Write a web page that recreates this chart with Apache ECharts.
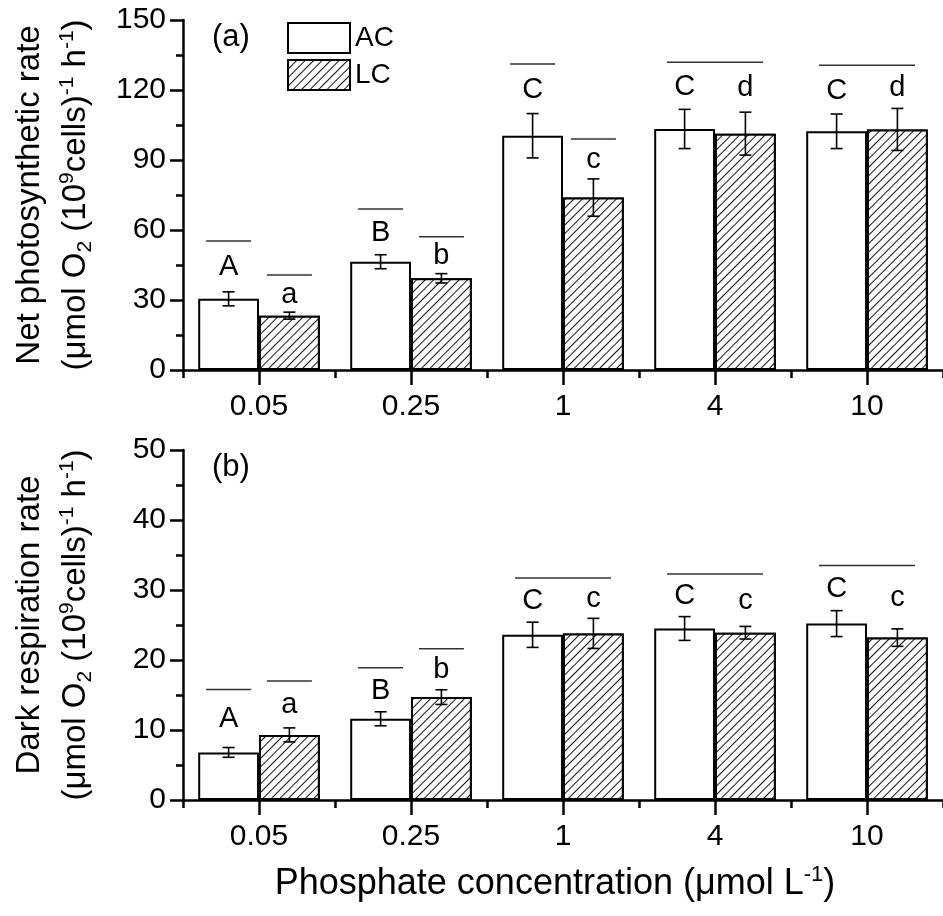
<!DOCTYPE html>
<html>
<head>
<meta charset="utf-8">
<script src="https://cdn.jsdelivr.net/npm/echarts@6/dist/echarts.min.js"></script>
<style>
  html, body { margin: 0; padding: 0; background: #fff; }
  #chart { width: 943px; height: 916px; }
</style>
</head>
<body>
<div id="chart"></div>
<script>
// phosphate levels (µmol L-1)
const categories = ['0.05', '0.25', '1', '4', '10'];

// (a) net photosynthetic rate
const netAC = [30.5, 46.4, 100.4, 103.3, 102.3];
const netACErr = [3.0, 3.0, 9.5, 8.4, 7.4];
const netLC = [23.3, 39.3, 73.9, 101.3, 103.1];
const netLCErr = [1.5, 2.0, 8.0, 9.2, 9.0];
const netACLetters = ['A', 'B', 'C', 'C', 'C'];
const netLCLetters = ['a', 'b', 'c', 'd', 'd'];
// height of the grouping line over each bar; null in LC = one line over both bars
const netACLine = [55.3, 69, 131.1, 131.9, 130.6];
const netLCLine = [40.7, 57.1, 99, null, null];

// (b) dark respiration rate
const darkAC = [6.8, 11.6, 23.6, 24.5, 25.2];
const darkACErr = [0.7, 1.0, 1.8, 1.7, 1.85];
const darkLC = [9.3, 14.7, 23.8, 23.9, 23.2];
const darkLCErr = [1.0, 1.05, 2.15, 0.9, 1.25];
const darkACLetters = ['A', 'B', 'C', 'C', 'C'];
const darkLCLetters = ['a', 'b', 'c', 'c', 'c'];
const darkACLine = [15.8, 18.9, 31.7, 32.3, 33.5];
const darkLCLine = [17.0, 21.6, null, null, null];

const FONT = "'Liberation Sans', Arial, sans-serif";
const hatch = {
  symbol: 'rect',
  symbolSize: 1,
  color: '#111',
  backgroundColor: '#fff',
  dashArrayX: [1, 0],
  dashArrayY: [1, 5],
  rotation: -Math.PI / 4
};

function barWidth(api) {
  return api.size([1, 0])[0] * 0.8 / 2;
}

function errorSeries(name, gridIdx, sign, vals, errs) {
  return {
    name: name + ' err',
    type: 'custom',
    xAxisIndex: gridIdx * 2,
    yAxisIndex: gridIdx,
    z: 5,
    silent: true,
    data: vals.map((v, i) => [i, v, errs[i]]),
    renderItem: function (params, api) {
      const i = api.value(0);
      const bw = barWidth(api);
      const x = api.coord([i, 0])[0] + sign * bw / 2;
      const hi = api.coord([i, api.value(1) + api.value(2)])[1];
      const lo = api.coord([i, api.value(1) - api.value(2)])[1];
      const st = { stroke: '#000', lineWidth: 1.6 };
      return {
        type: 'group',
        children: [
          { type: 'line', shape: { x1: x, y1: hi, x2: x, y2: lo }, style: st },
          { type: 'line', shape: { x1: x - 6, y1: hi, x2: x + 6, y2: hi }, style: st },
          { type: 'line', shape: { x1: x - 6, y1: lo, x2: x + 6, y2: lo }, style: st }
        ]
      };
    }
  };
}

function markSeries(gridIdx, ac, acErr, lc, lcErr, acLine, lcLine, acLet, lcLet) {
  return {
    name: 'marks',
    type: 'custom',
    xAxisIndex: gridIdx * 2,
    yAxisIndex: gridIdx,
    z: 6,
    silent: true,
    data: categories.map((c, i) => [i, acLine[i]]),
    renderItem: function (params, api) {
      const i = params.dataIndex;
      const bw = barWidth(api);
      const cx = api.coord([i, 0])[0];
      const xa = cx - bw / 2, xl = cx + bw / 2;
      const lineSt = { stroke: '#333', lineWidth: 1.5 };
      const txt = (x, y, t) => ({
        type: 'text',
        style: { x: x, y: y, text: t, fill: '#000', fontSize: 29, fontFamily: FONT, align: 'center', verticalAlign: 'middle' }
      });
      const children = [];
      const yA = api.coord([i, acLine[i]])[1];
      let yL;
      if (lcLine[i] == null) {
        yL = yA;
        const h = bw * 0.79;
        children.push({ type: 'line', shape: { x1: cx - h, y1: yA, x2: cx + h, y2: yA }, style: lineSt });
      } else {
        yL = api.coord([i, lcLine[i]])[1];
        const h = bw * 0.37;
        children.push({ type: 'line', shape: { x1: xa - h, y1: yA, x2: xa + h, y2: yA }, style: lineSt });
        children.push({ type: 'line', shape: { x1: xl - h, y1: yL, x2: xl + h, y2: yL }, style: lineSt });
      }
      const eA = api.coord([i, ac[i] + acErr[i]])[1];
      const eL = api.coord([i, lc[i] + lcErr[i]])[1];
      children.push(txt(xa, (eA + yA) / 2 + 1, acLet[i]));
      children.push(txt(xl, (eL + yL) / 2 + 1, lcLet[i]));
      return { type: 'group', children: children };
    }
  };
}

const axisLineSt = { show: true, lineStyle: { color: '#000', width: 2.5 } };
const labelSt = { color: '#000', fontSize: 30, fontFamily: FONT };

function xAxes(gridIdx, withName) {
  return [
    {
      gridIndex: gridIdx,
      type: 'category',
      position: 'bottom',
      data: categories,
      axisLine: axisLineSt,
      axisTick: { show: true, alignWithLabel: true, length: 15, lineStyle: { color: '#000', width: 2.5 } },
      axisLabel: Object.assign({ margin: 22 }, labelSt),
      name: withName ? '{t|Phosphate concentration (\u03bcmol L}{sup|-1}{t|)}' : '',
      nameLocation: 'middle',
      nameGap: 64,
      nameTextStyle: {
        padding: [0, 16, 0, 0],
        rich: {
          t: { fontSize: 36, fontFamily: FONT, color: '#000' },
          sup: { fontSize: 22, fontFamily: FONT, color: '#000', padding: [0, 0, 18, 0] }
        }
      }
    },
    {
      gridIndex: gridIdx,
      type: 'category',
      position: 'bottom',
      data: categories,
      axisLine: { show: false },
      axisTick: { show: true, length: 8, lineStyle: { color: '#000', width: 2.5 } },
      axisLabel: { show: false }
    }
  ];
}

function yAxis(gridIdx, max, interval, title) {
  return {
    gridIndex: gridIdx,
    type: 'value',
    min: 0,
    max: max,
    interval: interval,
    axisLine: axisLineSt,
    axisTick: { show: true, length: 13, lineStyle: { color: '#000', width: 2.5 } },
    minorTick: { show: true, splitNumber: 2, length: 7, lineStyle: { color: '#000', width: 2.5 } },
    splitLine: { show: false },
    axisLabel: Object.assign({ margin: 17 }, labelSt),
    name: '{t|' + title + '}\n{t|(\u03bcmol O}{sub|2}{t| (10}{sup|9}{t|cells)}{sup|-1}{t| h}{sup|-1}{t|)}',
    nameLocation: 'middle',
    nameRotate: 90,
    nameGap: 84,
    nameTextStyle: {
      rich: {
        t: { fontSize: 33, fontFamily: FONT, color: '#000', lineHeight: 46 },
        sup: { fontSize: 21, fontFamily: FONT, color: '#000', padding: [0, 0, 18, 0] },
        sub: { fontSize: 21, fontFamily: FONT, color: '#000', padding: [18, 0, 0, 0] }
      }
    }
  };
}

function barSeries(name, gridIdx, vals, hatched) {
  return {
    name: name,
    type: 'bar',
    xAxisIndex: gridIdx * 2,
    yAxisIndex: gridIdx,
    data: vals,
    barGap: '0%',
    barCategoryGap: '20%',
    itemStyle: Object.assign(
      { color: '#fff', borderColor: '#000', borderWidth: 2 },
      hatched ? { decal: hatch } : {}
    )
  };
}

const chart = echarts.init(document.getElementById('chart'), null, { renderer: 'canvas' });
chart.setOption({
  animation: false,
  backgroundColor: '#fff',
  grid: [
    { left: 183, top: 20, width: 760, height: 350 },
    { left: 183, top: 450, width: 760, height: 350 }
  ],
  legend: {
    data: ['AC', 'LC'],
    orient: 'vertical',
    left: 287,
    top: 22,
    padding: 0,
    itemWidth: 62,
    itemHeight: 30,
    itemGap: 5,
    icon: 'rect',
    selectedMode: false,
    textStyle: { color: '#000', fontSize: 28, fontFamily: FONT }
  },
  graphic: [
    { type: 'text', x: 212, y: 37, style: { text: '(a)', fontSize: 31, fontFamily: FONT, fill: '#000', verticalAlign: 'middle' } },
    { type: 'text', x: 212, y: 467, style: { text: '(b)', fontSize: 31, fontFamily: FONT, fill: '#000', verticalAlign: 'middle' } }
  ],
  xAxis: xAxes(0, false).concat(xAxes(1, true)),
  yAxis: [
    yAxis(0, 150, 30, 'Net photosynthetic rate'),
    yAxis(1, 50, 10, 'Dark respiration rate')
  ],
  series: [
    barSeries('AC', 0, netAC, false),
    barSeries('LC', 0, netLC, true),
    errorSeries('AC', 0, -1, netAC, netACErr),
    errorSeries('LC', 0, 1, netLC, netLCErr),
    markSeries(0, netAC, netACErr, netLC, netLCErr, netACLine, netLCLine, netACLetters, netLCLetters),
    barSeries('AC', 1, darkAC, false),
    barSeries('LC', 1, darkLC, true),
    errorSeries('AC', 1, -1, darkAC, darkACErr),
    errorSeries('LC', 1, 1, darkLC, darkLCErr),
    markSeries(1, darkAC, darkACErr, darkLC, darkLCErr, darkACLine, darkLCLine, darkACLetters, darkLCLetters)
  ]
});
</script>
</body>
</html>
